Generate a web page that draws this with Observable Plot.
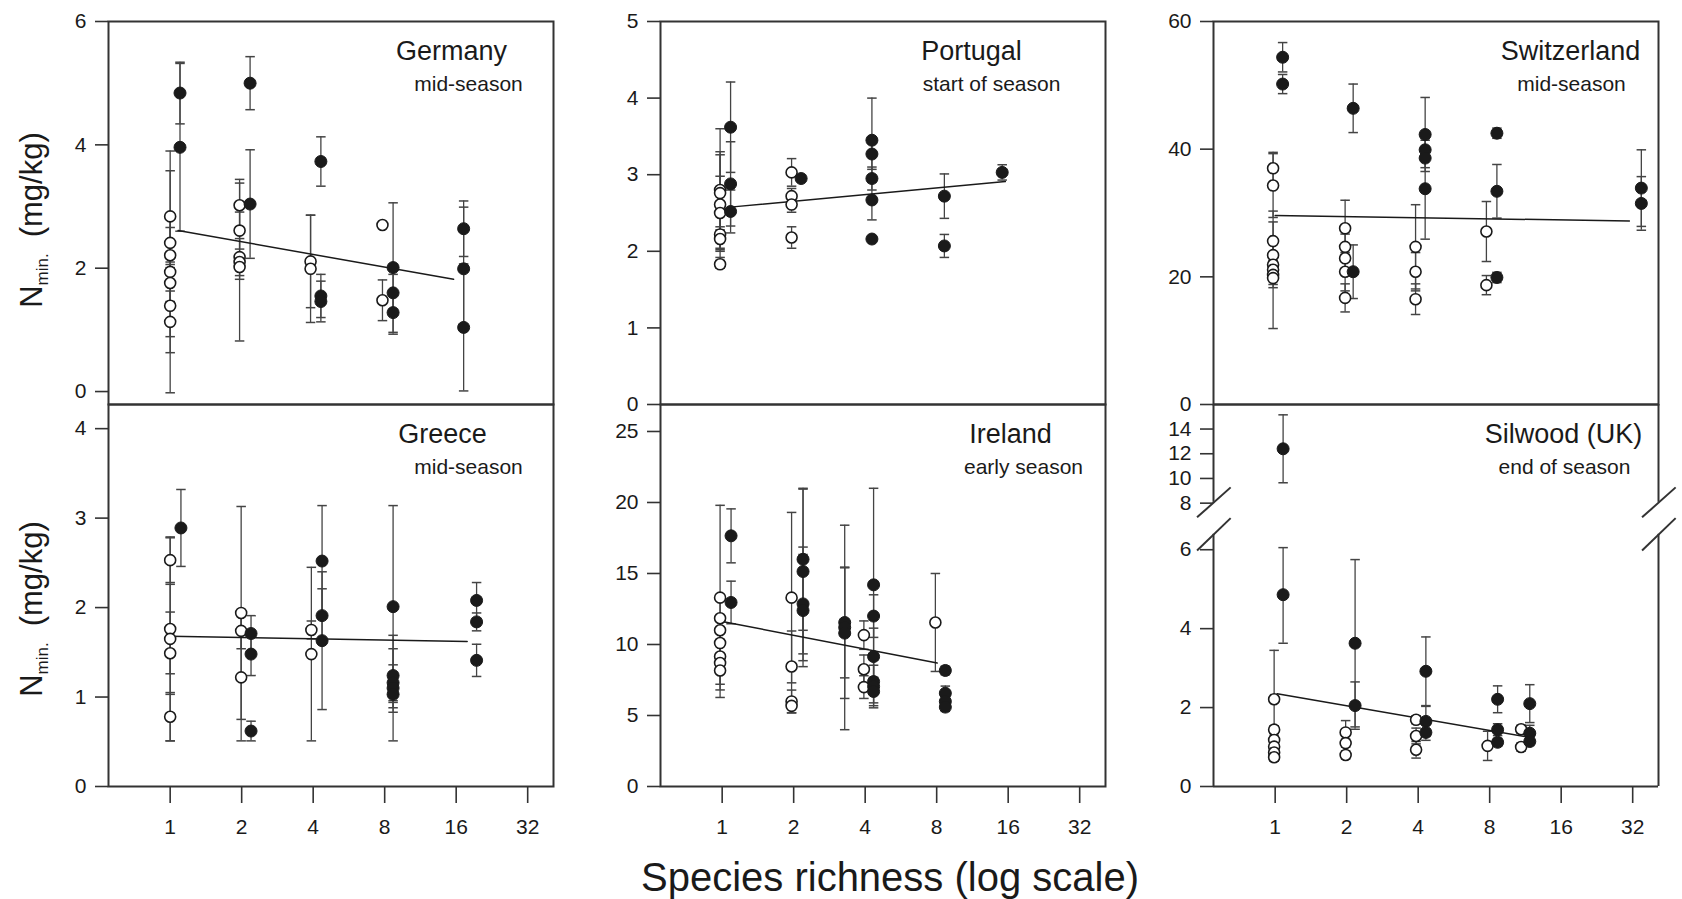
<!DOCTYPE html>
<html>
<head>
<meta charset="utf-8">
<script src="https://cdn.jsdelivr.net/npm/d3@7"></script>
<script src="https://cdn.jsdelivr.net/npm/@observablehq/plot@0.6"></script>
<style>
  html, body { margin: 0; padding: 0; background: #fff; }
  #figure { position: relative; width: 1682px; height: 899px; font-family: "Liberation Sans", Arial, Helvetica, sans-serif; }
  #figure svg { position: absolute; }
</style>
</head>
<body>
<div id="figure"></div>
<script>
// Species richness ticks shared by every panel (log2 axis)
const richnessTicks = [1, 2, 4, 8, 16, 32];

// Each point: [species richness, mean N_min (mg/kg), standard error, legumes present (1) / absent (0)]
const germany = [
  [1.0, 2.84, 0.74, 0], [1.0, 2.41, 0.40, 0], [1.0, 2.21, 0.45, 0], [1.0, 1.94, 1.96, 0],
  [1.0, 1.76, 0.30, 0], [1.0, 1.39, 0.50, 0], [1.0, 1.13, 0.50, 0],
  [1.10, 4.84, 0.50, 1], [1.10, 3.96, 1.36, 1],
  [1.96, 3.02, 0.42, 0], [1.96, 2.61, 0.30, 0], [1.96, 2.18, 0.30, 0], [1.96, 2.10, 1.28, 0], [1.96, 2.02, 0.20, 0],
  [2.17, 5.00, 0.43, 1], [2.17, 3.04, 0.88, 1],
  [3.90, 2.11, 0.75, 0], [3.90, 1.99, 0.87, 0],
  [4.31, 3.73, 0.40, 1], [4.31, 1.55, 0.35, 1], [4.31, 1.46, 0.33, 1],
  [7.83, 2.70, 0, 0], [7.83, 1.48, 0.33, 0],
  [8.68, 2.01, 1.05, 1], [8.68, 1.60, 0.30, 1], [8.68, 1.28, 0.35, 1],
  [17.2, 2.64, 0.45, 1], [17.2, 1.99, 1.00, 1], [17.2, 1.04, 1.03, 1]
];
const portugal = [
  [0.98, 2.80, 0.80, 0], [0.98, 2.76, 0.50, 0], [0.98, 2.61, 0.69, 0], [0.98, 2.50, 0.48, 0],
  [0.98, 2.22, 0.10, 0], [0.98, 2.16, 0.12, 0], [0.98, 1.83, 0.05, 0],
  [1.085, 3.62, 0.59, 1], [1.085, 2.88, 0.55, 1], [1.085, 2.52, 0.28, 1],
  [1.96, 3.03, 0.18, 0], [1.96, 2.72, 0.10, 0], [1.96, 2.61, 0.10, 0], [1.96, 2.18, 0.14, 0],
  [2.15, 2.95, 0, 1],
  [4.27, 3.45, 0.55, 1], [4.27, 3.27, 0.20, 1], [4.27, 2.95, 0.15, 1], [4.27, 2.67, 0.26, 1], [4.27, 2.16, 0, 1],
  [8.62, 2.72, 0.29, 1], [8.62, 2.07, 0.15, 1],
  [15.1, 3.03, 0.10, 1]
];
const switzerland = [
  [0.98, 37.0, 2.5, 0], [0.98, 34.3, 5.0, 0], [0.98, 25.6, 3.0, 0], [0.98, 23.4, 2.0, 0],
  [0.98, 21.9, 2.0, 0], [0.98, 21.1, 9.2, 0], [0.98, 20.3, 1.5, 0], [0.98, 19.8, 1.5, 0],
  [1.075, 54.4, 2.3, 1], [1.075, 50.2, 1.5, 1],
  [1.97, 27.6, 4.4, 0], [1.97, 24.7, 2.0, 0], [1.97, 22.9, 2.0, 0], [1.97, 20.8, 3.0, 0], [1.97, 16.7, 2.2, 0],
  [2.13, 46.4, 3.8, 1], [2.13, 20.8, 4.2, 1],
  [3.90, 24.7, 6.6, 0], [3.90, 20.8, 3.0, 0], [3.90, 16.5, 2.4, 0],
  [4.28, 42.3, 5.8, 1], [4.28, 39.9, 1.5, 1], [4.28, 38.6, 1.5, 1], [4.28, 33.8, 7.9, 1],
  [7.75, 27.1, 4.7, 0], [7.75, 18.7, 1.5, 0],
  [8.58, 42.5, 0.8, 1], [8.58, 33.4, 4.2, 1], [8.58, 19.9, 0.8, 1],
  [34.8, 33.9, 6.0, 1], [34.8, 31.5, 4.2, 1]
];
const greece = [
  [1.0, 2.53, 0.25, 0], [1.0, 1.76, 0.50, 0], [1.0, 1.65, 1.14, 0], [1.0, 1.49, 0.46, 0], [1.0, 0.78, 0.27, 0],
  [1.11, 2.89, 0.43, 1],
  [1.99, 1.94, 1.19, 0], [1.99, 1.74, 0.20, 0], [1.99, 1.22, 0.71, 0],
  [2.19, 1.71, 0.20, 1], [2.19, 1.48, 0.24, 1], [2.19, 0.62, 0.11, 1],
  [3.93, 1.75, 0.10, 0], [3.93, 1.48, 0.97, 0],
  [4.36, 2.52, 0.62, 1], [4.36, 1.91, 0.30, 1], [4.36, 1.63, 0.77, 1],
  [8.68, 2.01, 1.13, 1], [8.68, 1.24, 0.30, 1], [8.68, 1.16, 0.20, 1], [8.68, 1.10, 0.59, 1], [8.68, 1.03, 0.20, 1],
  [19.5, 2.08, 0.20, 1], [19.5, 1.84, 0.10, 1], [19.5, 1.41, 0.18, 1]
];
const ireland = [
  [0.98, 13.3, 6.5, 0], [0.98, 11.85, 1.5, 0], [0.98, 11.0, 1.0, 0], [0.98, 10.1, 1.0, 0],
  [0.98, 9.15, 1.0, 0], [0.98, 8.7, 1.5, 0], [0.98, 8.17, 1.9, 0],
  [1.09, 17.65, 1.9, 1], [1.09, 12.96, 1.5, 1],
  [1.96, 13.3, 6.0, 0], [1.96, 8.45, 2.5, 0], [1.96, 5.99, 0.8, 0], [1.96, 5.68, 0.5, 0],
  [2.19, 16.0, 5.0, 1], [2.19, 15.14, 5.8, 1], [2.19, 12.86, 4.0, 1], [2.19, 12.39, 3.95, 1],
  [3.28, 11.55, 3.9, 1], [3.28, 11.2, 7.2, 1], [3.28, 10.8, 4.6, 1],
  [3.95, 10.66, 1.0, 0], [3.95, 8.26, 1.0, 0], [3.95, 7.0, 0.8, 0],
  [4.34, 14.2, 6.8, 1], [4.34, 12.0, 1.5, 1], [4.34, 9.15, 2.0, 1], [4.34, 7.39, 1.5, 1], [4.34, 7.04, 1.5, 1], [4.34, 6.69, 1.0, 1],
  [7.9, 11.55, 3.45, 0],
  [8.7, 8.17, 0.3, 1], [8.7, 6.57, 0.5, 1], [8.7, 5.99, 0.4, 1], [8.7, 5.59, 0.3, 1]
];
const silwood = [
  [1.08, 12.4, 2.75, 1], [1.08, 4.86, 1.23, 1],
  [0.99, 2.21, 1.24, 0], [0.99, 1.44, 0.10, 0], [0.99, 1.18, 0.10, 0], [0.99, 1.01, 0.10, 0], [0.99, 0.86, 0.10, 0], [0.99, 0.74, 0.10, 0],
  [2.17, 3.63, 2.12, 1], [2.17, 2.05, 0.60, 1],
  [1.98, 1.37, 0.30, 0], [1.98, 1.10, 0.10, 0], [1.98, 0.80, 0.10, 0],
  [4.31, 2.92, 0.87, 1], [4.31, 1.65, 0.38, 1], [4.31, 1.37, 0.20, 1],
  [3.92, 1.69, 0.10, 0], [3.92, 1.28, 0.20, 0], [3.92, 0.93, 0.21, 0],
  [8.64, 2.21, 0.34, 1], [8.64, 1.44, 0.15, 1], [8.64, 1.12, 0.10, 1],
  [7.84, 1.03, 0.37, 0],
  [10.85, 1.45, 0.10, 0], [10.85, 1.00, 0.10, 0],
  [11.8, 2.10, 0.48, 1], [11.8, 1.35, 0.20, 1], [11.8, 1.14, 0.10, 1]
];

// Regression lines: [richness, N_min] at both ends
const germanyFit = [[1.08, 2.61], [15.6, 1.82]];
const portugalFit = [[1.11, 2.58], [15.56, 2.91]];
const switzerlandFit = [[1.0, 29.6], [31, 28.75]];
const greeceFit = [[1.0, 1.68], [17.8, 1.62]];
const irelandFit = [[1.0, 11.62], [8.04, 8.69]];
const silwoodFit = [[1.02, 2.35], [11.6, 1.25]];

// y tick values per panel
const germanyTicks = [0, 2, 4, 6];
const portugalTicks = [0, 1, 2, 3, 4, 5];
const switzerlandTicks = [0, 20, 40, 60];
const greeceTicks = [0, 1, 2, 3, 4];
const irelandTicks = [0, 5, 10, 15, 20, 25];
const silwoodTicks = [0, 2, 4, 6, 8, 10, 12, 14];

// Silwood's y axis is broken between 6 and 8 mg/kg; values above the break are compressed
const breakLow = 6, breakHigh = 8, gapUnits = 1.18, upperScale = 0.313;
function brokenY(v) {
  if (v <= breakLow) return v;
  if (v >= breakHigh) return breakLow + gapUnits + (v - breakHigh) * upperScale;
  return breakLow + (v - breakLow) * gapUnits / (breakHigh - breakLow);
}

const panels = [
  {site: "Germany", season: "mid-season", data: germany, fit: germanyFit, yDomain: [-0.21, 6], yTicks: germanyTicks, row: 0, col: 0, titleDx: -102, seasonDx: -85},
  {site: "Portugal", season: "start of season", data: portugal, fit: portugalFit, yDomain: [0, 5], yTicks: portugalTicks, row: 0, col: 1, titleDx: -134, seasonDx: -114},
  {site: "Switzerland", season: "mid-season", data: switzerland, fit: switzerlandFit, yDomain: [0, 60], yTicks: switzerlandTicks, row: 0, col: 2, titleDx: -88, seasonDx: -87},
  {site: "Greece", season: "mid-season", data: greece, fit: greeceFit, yDomain: [0, 4.27], yTicks: greeceTicks, row: 1, col: 0, titleDx: -111, seasonDx: -85},
  {site: "Ireland", season: "early season", data: ireland, fit: irelandFit, yDomain: [0, 26.9], yTicks: irelandTicks, row: 1, col: 1, titleDx: -95, seasonDx: -82},
  {site: "Silwood (UK)", season: "end of season", data: silwood, fit: silwoodFit, yDomain: [0, 9.68], yTicks: silwoodTicks, row: 1, col: 2, titleDx: -95, seasonDx: -94, yMap: brokenY, broken: true}
];

// Grid geometry
const colLeft = [108, 660, 1213];
const rowTop = [21, 404];
const frameW = 445;
const frameH = [383, 382];
const margin = {left: 110, right: 40, top: 20, bottom: [20, 70]};
const xDomain = [0.55, 41.1];
const ink = "#1a1a1a";

function panelPlot(p) {
  const yOf = p.yMap || (v => v);
  const bars = p.data.filter(d => d[2] > 0);
  const cap = 0.955; // multiplicative half-width of error-bar caps on the log axis
  const tickPos = p.yTicks.map(yOf);
  const tickLabel = new Map(tickPos.map((t, i) => [t, p.yTicks[i]]));
  const marks = [];

  if (p.broken) {
    const top = p.yDomain[1];
    const lowEnd = 6.39, highStart = 7.2;
    marks.push(
      Plot.ruleY([p.yDomain[0], top], {stroke: "#333", strokeWidth: 2}),
      Plot.ruleX(xDomain, {y1: 0, y2: lowEnd, stroke: "#333", strokeWidth: 2}),
      Plot.ruleX(xDomain, {y1: highStart, y2: top, stroke: "#333", strokeWidth: 2})
    );
    const slashes = [];
    for (const edge of xDomain) {
      for (const [ya, yb] of [[5.98, 6.8], [6.82, 7.58]]) {
        slashes.push({x1: edge / 2 ** 0.23, x2: edge * 2 ** 0.24, y1: ya, y2: yb});
      }
    }
    marks.push(Plot.link(slashes, {x1: "x1", x2: "x2", y1: "y1", y2: "y2", stroke: "#333", strokeWidth: 2}));
  } else {
    marks.push(Plot.frame({stroke: "#333", strokeWidth: 2}));
  }

  marks.push(
    Plot.axisY({ticks: tickPos, tickSize: 13, tickPadding: 9, tickFormat: d => tickLabel.get(d), label: null, fontSize: 21, stroke: "#333", strokeWidth: 1.6}),
    // error bars with caps
    Plot.ruleX(bars, {x: d => d[0], y1: d => yOf(d[1] - d[2]), y2: d => yOf(d[1] + d[2]), stroke: "#444", strokeWidth: 1.3}),
    Plot.link(bars, {x1: d => d[0] * cap, x2: d => d[0] / cap, y1: d => yOf(d[1] + d[2]), y2: d => yOf(d[1] + d[2]), stroke: "#444", strokeWidth: 1.5}),
    Plot.link(bars, {x1: d => d[0] * cap, x2: d => d[0] / cap, y1: d => yOf(d[1] - d[2]), y2: d => yOf(d[1] - d[2]), stroke: "#444", strokeWidth: 1.5}),
    // regression line
    Plot.line(p.fit, {x: d => d[0], y: d => yOf(d[1]), stroke: ink, strokeWidth: 1.5}),
    // plots without legumes (open) and with legumes (filled)
    Plot.dot(p.data.filter(d => d[3] === 0), {x: d => d[0], y: d => yOf(d[1]), r: 5.5, fill: "white", stroke: ink, strokeWidth: 1.6}),
    Plot.dot(p.data.filter(d => d[3] === 1), {x: d => d[0], y: d => yOf(d[1]), r: 6, fill: ink, stroke: ink, strokeWidth: 1}),
    // site and season
    Plot.text([p.site], {frameAnchor: "top-right", dx: p.titleDx, dy: 19, textAnchor: "middle", lineAnchor: "top", fontSize: 27, fill: ink}),
    Plot.text([p.season], {frameAnchor: "top-right", dx: p.seasonDx, dy: 55, textAnchor: "middle", lineAnchor: "top", fontSize: 21, fill: ink})
  );

  if (p.row === 1) {
    marks.push(Plot.axisX({ticks: richnessTicks, tickSize: 17, tickPadding: 16, tickFormat: d => String(d), label: null, fontSize: 21, stroke: "#333", strokeWidth: 1.6}));
  }

  const mb = margin.bottom[p.row];
  const svg = Plot.plot({
    width: frameW + margin.left + margin.right,
    height: frameH[p.row] + margin.top + mb,
    marginLeft: margin.left,
    marginRight: margin.right,
    marginTop: margin.top,
    marginBottom: mb,
    x: {type: "log", base: 2, domain: xDomain, axis: null},
    y: {domain: p.yDomain, axis: null},
    style: {background: "transparent", overflow: "visible", fontFamily: "'Liberation Sans', Arial, sans-serif", fontSize: "21px", color: ink},
    marks
  });
  svg.style.left = (colLeft[p.col] - margin.left) + "px";
  svg.style.top = (rowTop[p.row] - margin.top) + "px";
  return svg;
}

const figure = document.getElementById("figure");
for (const p of panels) figure.appendChild(panelPlot(p));

// Shared axis titles
const overlay = d3.select(figure).append("svg")
  .attr("width", 1682).attr("height", 899)
  .style("left", "0px").style("top", "0px").style("pointer-events", "none")
  .attr("font-family", "'Liberation Sans', Arial, sans-serif").attr("fill", ink);

for (const cy of [220, 609]) {
  const t = overlay.append("text")
    .attr("transform", `translate(42,${cy}) rotate(-90)`)
    .attr("text-anchor", "middle")
    .attr("font-size", 31);
  t.append("tspan").text("N");
  t.append("tspan").attr("font-size", 17).attr("dy", 6).text("min.");
  t.append("tspan").attr("dy", -6).attr("dx", 16).text("(mg/kg)");
}

overlay.append("text")
  .attr("x", 890).attr("y", 891)
  .attr("text-anchor", "middle")
  .attr("font-size", 40)
  .text("Species richness (log scale)");
</script>
</body>
</html>
